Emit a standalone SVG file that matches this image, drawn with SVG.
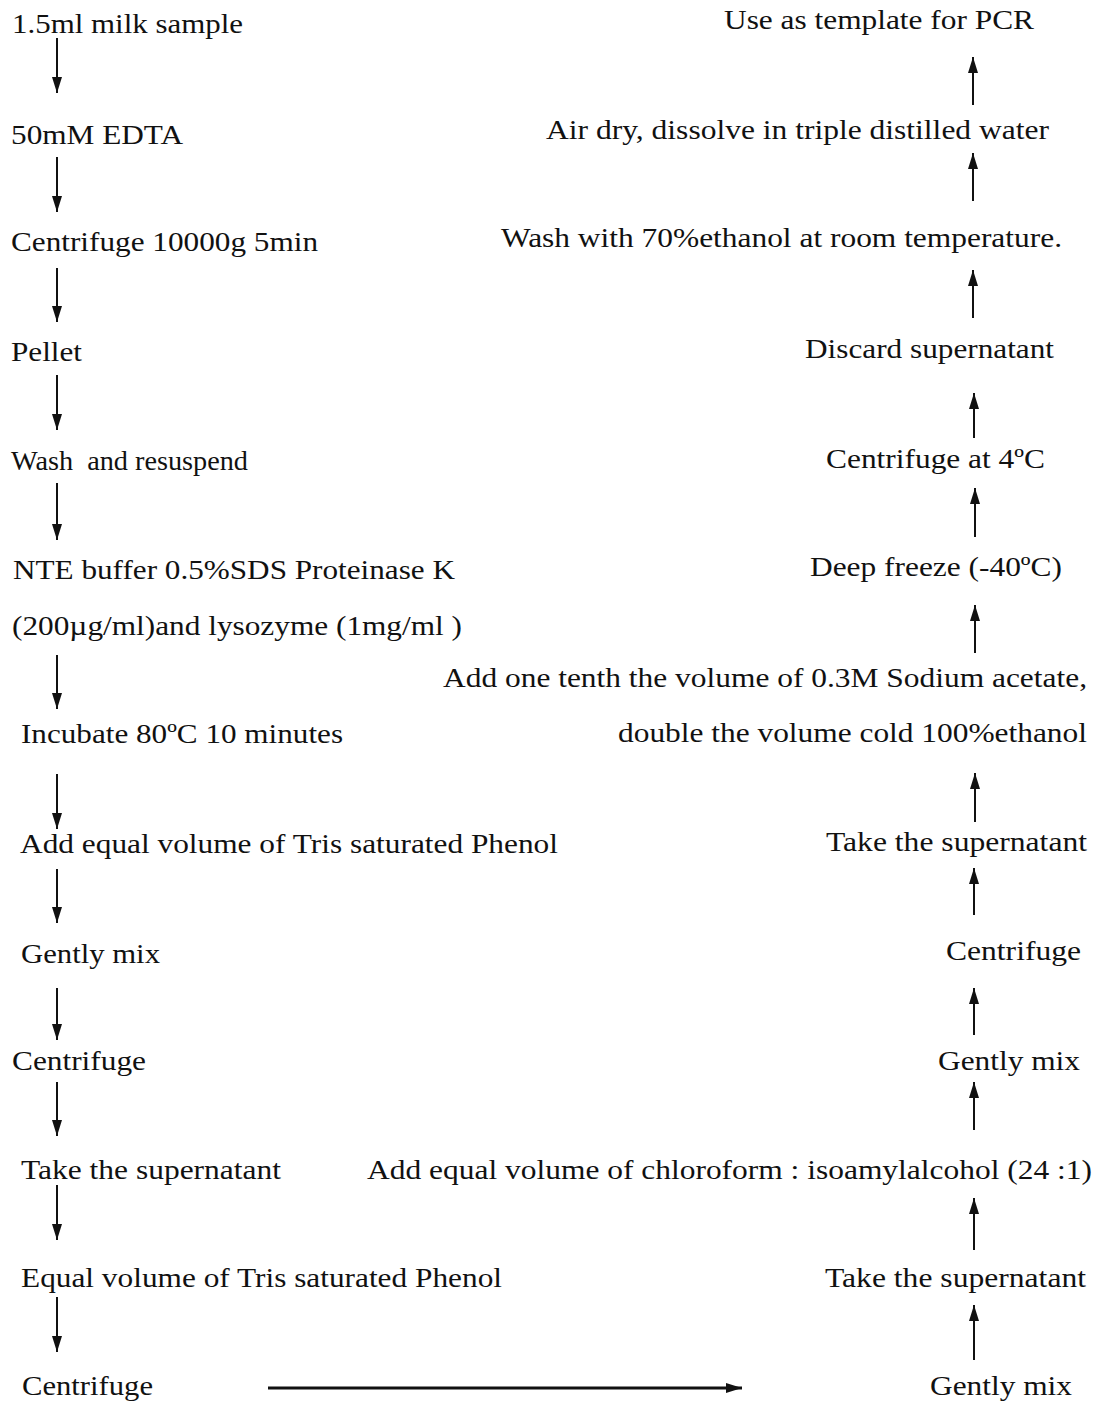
<svg xmlns="http://www.w3.org/2000/svg" width="1100" height="1404" viewBox="0 0 1100 1404">
<style>
text{font-family:"Liberation Serif","Times New Roman",serif;font-size:28px;fill:#111}
.c{stroke:#111;stroke-width:2;fill:none}
</style>
<defs>
<marker id="ah" viewBox="0 0 16 10" refX="16" refY="5" markerWidth="16" markerHeight="10" markerUnits="userSpaceOnUse" orient="auto">
<path d="M0,0 L16,5 L0,10 z" fill="#111"/>
</marker>
</defs>
<rect width="1100" height="1404" fill="#fff"/>
<g id="left">
<g id="L1"><text x="12" y="33" textLength="231" lengthAdjust="spacingAndGlyphs">1.5ml milk sample</text></g>
<g id="L2"><text x="11" y="144" textLength="172" lengthAdjust="spacingAndGlyphs">50mM EDTA</text></g>
<g id="L3"><text x="11" y="251" textLength="307" lengthAdjust="spacingAndGlyphs">Centrifuge 10000g 5min</text></g>
<g id="L4"><text x="11" y="361" textLength="71" lengthAdjust="spacingAndGlyphs">Pellet</text></g>
<g id="L5"><text x="11" y="470" textLength="237" lengthAdjust="spacingAndGlyphs">Wash&#160; and resuspend</text></g>
<g id="L6"><text x="13" y="579" textLength="442" lengthAdjust="spacingAndGlyphs">NTE buffer 0.5%SDS Proteinase K</text>
<text x="12" y="635" textLength="450" lengthAdjust="spacingAndGlyphs">(200µg/ml)and lysozyme (1mg/ml )</text></g>
<g id="L7"><text x="21" y="743" textLength="322" lengthAdjust="spacingAndGlyphs">Incubate 80ºC 10 minutes</text></g>
<g id="L8"><text x="20" y="853" textLength="538" lengthAdjust="spacingAndGlyphs">Add equal volume of Tris saturated Phenol</text></g>
<g id="L9"><text x="21" y="963" textLength="139" lengthAdjust="spacingAndGlyphs">Gently mix</text></g>
<g id="L10"><text x="12" y="1070" textLength="134" lengthAdjust="spacingAndGlyphs">Centrifuge</text></g>
<g id="L11"><text x="21" y="1179" textLength="260" lengthAdjust="spacingAndGlyphs">Take the supernatant</text></g>
<g id="L12"><text x="21" y="1287" textLength="481" lengthAdjust="spacingAndGlyphs">Equal volume of Tris saturated Phenol</text></g>
<g id="L13"><text x="22" y="1395" textLength="131" lengthAdjust="spacingAndGlyphs">Centrifuge</text></g>
</g>
<g id="right">
<g id="R1"><text x="724" y="29" textLength="310" lengthAdjust="spacingAndGlyphs">Use as template for PCR</text></g>
<g id="R2"><text x="546" y="139" textLength="503" lengthAdjust="spacingAndGlyphs">Air dry, dissolve in triple distilled water</text></g>
<g id="R3"><text x="501" y="247" textLength="561" lengthAdjust="spacingAndGlyphs">Wash with 70%ethanol at room temperature.</text></g>
<g id="R4"><text x="805" y="358" textLength="249" lengthAdjust="spacingAndGlyphs">Discard supernatant</text></g>
<g id="R5"><text x="826" y="468" textLength="219" lengthAdjust="spacingAndGlyphs">Centrifuge at 4ºC</text></g>
<g id="R6"><text x="810" y="576" textLength="252" lengthAdjust="spacingAndGlyphs">Deep freeze (-40ºC)</text></g>
<g id="R7"><text x="443" y="687" textLength="644" lengthAdjust="spacingAndGlyphs">Add one tenth the volume of 0.3M Sodium acetate,</text>
<text x="618" y="742" textLength="469" lengthAdjust="spacingAndGlyphs">double the volume cold 100%ethanol</text></g>
<g id="R8"><text x="826" y="851" textLength="261" lengthAdjust="spacingAndGlyphs">Take the supernatant</text></g>
<g id="R9"><text x="946" y="960" textLength="135" lengthAdjust="spacingAndGlyphs">Centrifuge</text></g>
<g id="R10"><text x="938" y="1070" textLength="142" lengthAdjust="spacingAndGlyphs">Gently mix</text></g>
<g id="R11"><text x="367" y="1179" textLength="725" lengthAdjust="spacingAndGlyphs">Add equal volume of chloroform : isoamylalcohol (24 :1)</text></g>
<g id="R12"><text x="825" y="1287" textLength="261" lengthAdjust="spacingAndGlyphs">Take the supernatant</text></g>
<g id="R13"><text x="930" y="1395" textLength="142" lengthAdjust="spacingAndGlyphs">Gently mix</text></g>
</g>
<g id="connectors" class="c">
<line class="c" x1="57" y1="38" x2="57" y2="93" marker-end="url(#ah)"/>
<line class="c" x1="57" y1="157" x2="57" y2="212" marker-end="url(#ah)"/>
<line class="c" x1="57" y1="268" x2="57" y2="322" marker-end="url(#ah)"/>
<line class="c" x1="57" y1="375" x2="57" y2="430" marker-end="url(#ah)"/>
<line class="c" x1="57" y1="483" x2="57" y2="540" marker-end="url(#ah)"/>
<line class="c" x1="57" y1="655" x2="57" y2="709" marker-end="url(#ah)"/>
<line class="c" x1="57" y1="774" x2="57" y2="829" marker-end="url(#ah)"/>
<line class="c" x1="57" y1="869" x2="57" y2="923" marker-end="url(#ah)"/>
<line class="c" x1="57" y1="988" x2="57" y2="1040" marker-end="url(#ah)"/>
<line class="c" x1="57" y1="1082" x2="57" y2="1136" marker-end="url(#ah)"/>
<line class="c" x1="57" y1="1185" x2="57" y2="1240" marker-end="url(#ah)"/>
<line class="c" x1="57" y1="1297" x2="57" y2="1352" marker-end="url(#ah)"/>
<line class="c" x1="268" y1="1388" x2="742" y2="1388" style="stroke-width:3" marker-end="url(#ah)"/>
<line class="c" x1="974" y1="1360" x2="974" y2="1305" marker-end="url(#ah)"/>
<line class="c" x1="974" y1="1250" x2="974" y2="1198" marker-end="url(#ah)"/>
<line class="c" x1="974" y1="1130" x2="974" y2="1082" marker-end="url(#ah)"/>
<line class="c" x1="974" y1="1035" x2="974" y2="988" marker-end="url(#ah)"/>
<line class="c" x1="974" y1="915" x2="974" y2="868" marker-end="url(#ah)"/>
<line class="c" x1="975" y1="822" x2="975" y2="773" marker-end="url(#ah)"/>
<line class="c" x1="975" y1="653" x2="975" y2="605" marker-end="url(#ah)"/>
<line class="c" x1="975" y1="537" x2="975" y2="488" marker-end="url(#ah)"/>
<line class="c" x1="974" y1="438" x2="974" y2="393" marker-end="url(#ah)"/>
<line class="c" x1="973" y1="318" x2="973" y2="270" marker-end="url(#ah)"/>
<line class="c" x1="973" y1="201" x2="973" y2="153" marker-end="url(#ah)"/>
<line class="c" x1="973" y1="105" x2="973" y2="57" marker-end="url(#ah)"/>
</g>
</svg>
